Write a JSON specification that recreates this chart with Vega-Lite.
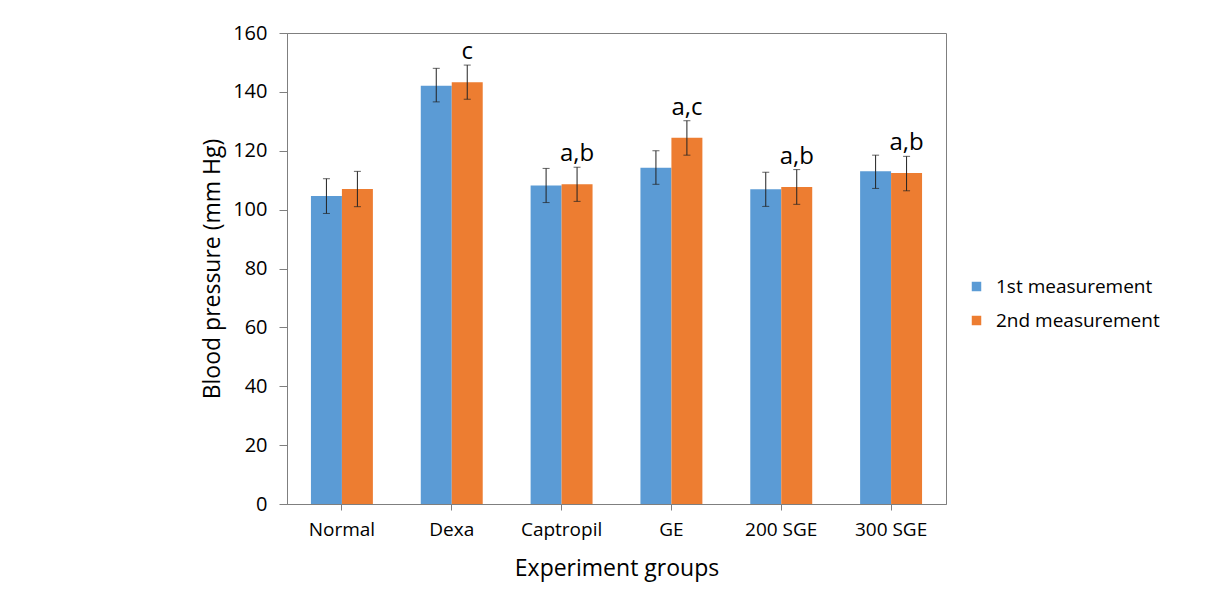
{
  "$schema": "https://vega.github.io/schema/vega-lite/v6.json",
  "width": 659,
  "height": 471,
  "autosize": {"type": "none"},
  "padding": {"left": 287, "top": 33, "right": 285, "bottom": 90},
  "background": "white",
  "data": {
    "values": [
      {"group": "Normal", "m": "1st measurement", "value": 104.6, "low": 98.7, "high": 110.5, "label": ""},
      {"group": "Normal", "m": "2nd measurement", "value": 107.0, "low": 101.0, "high": 113.0, "label": ""},
      {"group": "Dexa", "m": "1st measurement", "value": 142.1, "low": 136.6, "high": 148.0, "label": ""},
      {"group": "Dexa", "m": "2nd measurement", "value": 143.3, "low": 137.5, "high": 149.1, "label": "c"},
      {"group": "Captropil", "m": "1st measurement", "value": 108.2, "low": 102.4, "high": 114.0, "label": ""},
      {"group": "Captropil", "m": "2nd measurement", "value": 108.6, "low": 102.8, "high": 114.4, "label": "a,b"},
      {"group": "GE", "m": "1st measurement", "value": 114.2, "low": 108.6, "high": 120.0, "label": ""},
      {"group": "GE", "m": "2nd measurement", "value": 124.4, "low": 118.5, "high": 130.2, "label": "a,c"},
      {"group": "200 SGE", "m": "1st measurement", "value": 106.9, "low": 101.1, "high": 112.7, "label": ""},
      {"group": "200 SGE", "m": "2nd measurement", "value": 107.7, "low": 101.8, "high": 113.6, "label": "a,b"},
      {"group": "300 SGE", "m": "1st measurement", "value": 113.0, "low": 107.2, "high": 118.5, "label": ""},
      {"group": "300 SGE", "m": "2nd measurement", "value": 112.4, "low": 106.4, "high": 118.1, "label": "a,b"}
    ]
  },
  "encoding": {
    "x": {
      "field": "group",
      "type": "nominal",
      "sort": null,
      "scale": {"paddingInner": 0.436, "paddingOuter": 0.218},
      "axis": {
        "title": "Experiment groups",
        "labelAngle": 0,
        "labelFontSize": 19,
        "labelPadding": 10,
        "tickSize": 6,
        "titleFontSize": 23,
        "titlePadding": 18
      }
    },
    "xOffset": {"field": "m", "type": "nominal", "scale": {"paddingInner": 0, "paddingOuter": 0}}
  },
  "layer": [
    {
      "mark": {"type": "bar"},
      "encoding": {
        "y": {
          "field": "value",
          "type": "quantitative",
          "scale": {"domain": [0, 160], "nice": false},
          "axis": {
            "title": "Blood pressure  (mm Hg)",
            "values": [0, 20, 40, 60, 80, 100, 120, 140, 160],
            "grid": false,
            "labelFontSize": 20,
            "labelPadding": 12,
            "tickSize": 8,
            "titleFontSize": 23,
            "titlePadding": 8
          }
        },
        "color": {
          "field": "m",
          "type": "nominal",
          "scale": {"domain": ["1st measurement", "2nd measurement"], "range": ["#5B9BD5", "#ED7D31"]},
          "legend": {
            "title": null,
            "orient": "none",
            "legendX": 680,
            "legendY": 244,
            "symbolType": "square",
            "symbolSize": 90,
            "symbolStrokeWidth": 0,
            "labelFontSize": 19,
            "labelLimit": 0,
            "labelOffset": 10,
            "rowPadding": 14,
            "padding": 0
          }
        }
      }
    },
    {
      "mark": {"type": "rule", "color": "#222222", "strokeWidth": 1},
      "encoding": {
        "y": {"field": "low", "type": "quantitative"},
        "y2": {"field": "high"}
      }
    },
    {
      "mark": {"type": "tick", "color": "#222222", "thickness": 1, "size": 7},
      "encoding": {
        "y": {"field": "low", "type": "quantitative"}
      }
    },
    {
      "mark": {"type": "tick", "color": "#222222", "thickness": 1, "size": 7},
      "encoding": {
        "y": {"field": "high", "type": "quantitative"}
      }
    },
    {
      "transform": [{"filter": "datum.label != ''"}],
      "mark": {"type": "text", "fontSize": 24, "baseline": "alphabetic", "dy": -6, "color": "black"},
      "encoding": {
        "y": {"field": "high", "type": "quantitative"},
        "text": {"field": "label"}
      }
    }
  ],
  "config": {
    "font": "Open Sans",
    "view": {"stroke": "#7f7f7f", "strokeWidth": 1},
    "axis": {
      "domainColor": "#7f7f7f",
      "tickColor": "#7f7f7f",
      "labelColor": "black",
      "titleColor": "black",
      "titleFontWeight": "normal",
      "labelFont": "Open Sans",
      "titleFont": "Open Sans"
    },
    "legend": {"labelColor": "black", "labelFont": "Open Sans"}
  }
}
